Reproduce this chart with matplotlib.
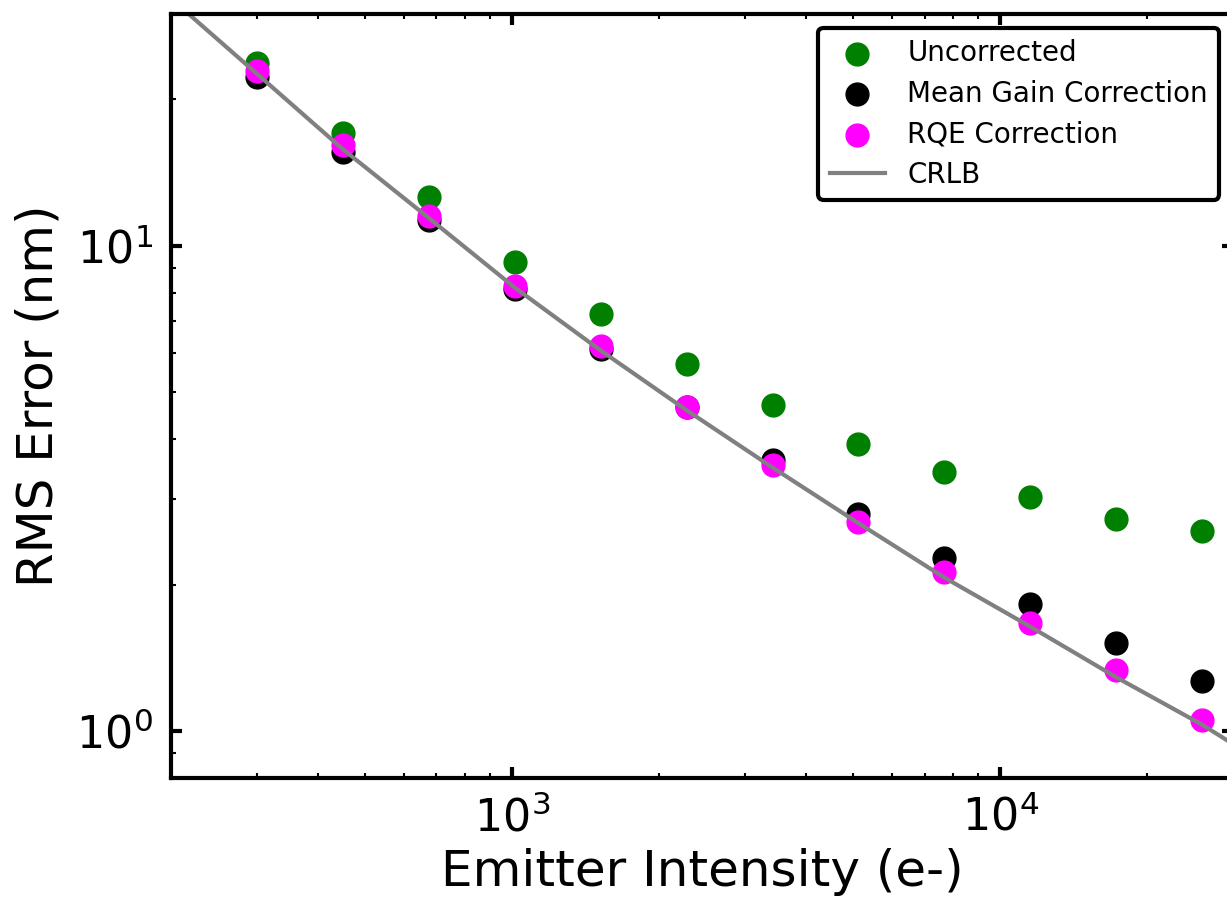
import numpy as np
import matplotlib
matplotlib.use('Agg')
import matplotlib.pyplot as plt

# emitter intensities (e-) of the simulated points
intensity = [300, 450, 675, 1012, 1519, 2278, 3417, 5126, 7689, 11533, 17300, 25950]

# RMS error (nm)
uncorrected = [23.8, 17.1, 12.6, 9.27, 7.24, 5.69, 4.69, 3.91, 3.41, 3.03, 2.74, 2.58]
mean_gain = [22.3, 15.6, 11.3, 8.12, 6.11, 4.66, 3.61, 2.80, 2.27, 1.83, 1.52, 1.27]
rqe = [22.9, 16.1, 11.5, 8.27, 6.20, 4.66, 3.54, 2.70, 2.13, 1.67, 1.335, 1.053]

# CRLB curve
crlb_intensity = [200, 300, 450, 675, 1012, 1519, 2278, 3417, 5126, 7689, 11533, 17300, 25950, 30000]
crlb = [32.3, 22.6, 15.8, 11.4, 8.20, 6.08, 4.58, 3.49, 2.68, 2.07, 1.64, 1.29, 1.03, 0.94]

fig = plt.figure(figsize=(12.27, 8.98), dpi=100)
ax = fig.add_axes([0.1393, 0.1336, 0.8656, 0.8508])

ax.scatter(intensity, uncorrected, s=270, color='green', label='Uncorrected')
ax.scatter(intensity, mean_gain, s=270, color='black', label='Mean Gain Correction')
ax.scatter(intensity, rqe, s=270, color='magenta', label='RQE Correction')
ax.plot(crlb_intensity, crlb, color='gray', linewidth=3, label='CRLB')

ax.set_xscale('log')
ax.set_yscale('log')
ax.set_xlim(200, 30000)
ax.set_ylim(0.8, 30)

for s in ax.spines.values():
    s.set_linewidth(3)

ax.tick_params(which='both', direction='in', top=True, right=True)
ax.tick_params(which='major', length=8, width=3, labelsize=32, pad=13)
ax.tick_params(which='minor', length=3.5, width=1.5)

ax.set_xlabel('Emitter Intensity (e-)', fontsize=36, labelpad=5)
ax.set_ylabel('RMS Error (nm)', fontsize=36, labelpad=10)

leg = ax.legend(loc='upper right', fontsize=20, frameon=True, fancybox=True,
                edgecolor='black', framealpha=1, labelspacing=0.45)
leg.get_frame().set_linewidth(3)

fig.savefig('out.png', dpi=100)
